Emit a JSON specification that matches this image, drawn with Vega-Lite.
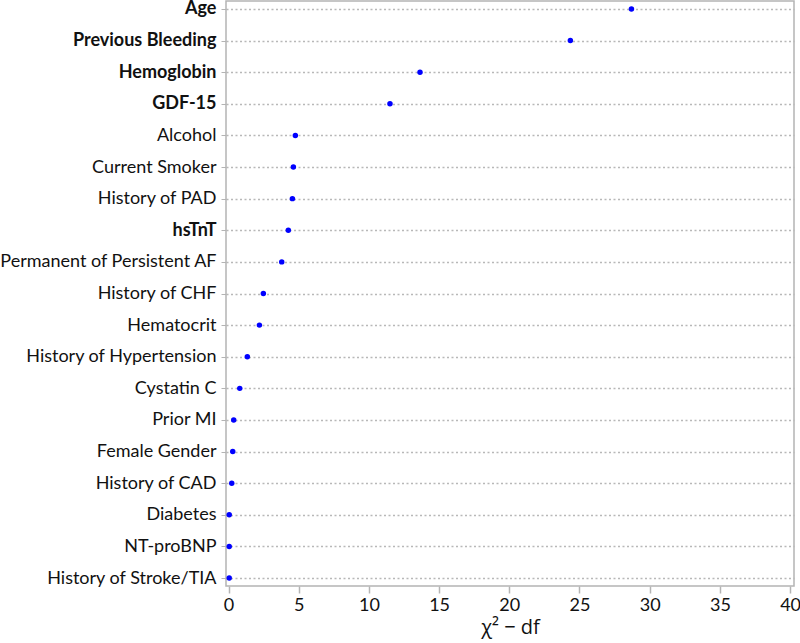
{
  "$schema": "https://vega.github.io/schema/vega-lite/v6.json",
  "autosize": {"type": "none"},
  "width": 568,
  "height": 585,
  "padding": {"left": 226, "top": 1, "right": 6, "bottom": 57},
  "background": "white",
  "config": {
    "view": {"stroke": "#b4b4b4", "strokeWidth": 1.5},
    "font": "Lato"
  },
  "data": {
    "values": [
      {"var": "Age", "val": 28.7},
      {"var": "Previous Bleeding", "val": 24.35},
      {"var": "Hemoglobin", "val": 13.64},
      {"var": "GDF-15", "val": 11.5},
      {"var": "Alcohol", "val": 4.76},
      {"var": "Current Smoker", "val": 4.62},
      {"var": "History of PAD", "val": 4.55},
      {"var": "hsTnT", "val": 4.26},
      {"var": "Permanent of Persistent AF", "val": 3.79},
      {"var": "History of CHF", "val": 2.48},
      {"var": "Hematocrit", "val": 2.2},
      {"var": "History of Hypertension", "val": 1.34},
      {"var": "Cystatin C", "val": 0.8},
      {"var": "Prior MI", "val": 0.37},
      {"var": "Female Gender", "val": 0.3},
      {"var": "History of CAD", "val": 0.23},
      {"var": "Diabetes", "val": 0.05},
      {"var": "NT-proBNP", "val": 0.05},
      {"var": "History of Stroke/TIA", "val": 0.05}
    ]
  },
  "mark": {"type": "point", "filled": true, "color": "#0000ff", "size": 30, "opacity": 1},
  "encoding": {
    "y": {
      "field": "var",
      "type": "nominal",
      "sort": null,
      "scale": {"type": "point", "padding": 0.25},
      "axis": {
        "title": null,
        "domain": false,
        "grid": true,
        "gridDash": [2, 2.5],
        "gridColor": "#b8b8b8",
        "gridWidth": 1.3,
        "tickColor": "#b4b4b4",
        "tickSize": 5,
        "labelPadding": 5,
        "labelFontSize": 18,
        "labelColor": "#111111",
        "labelLimit": 300,
        "labelFontWeight": {
          "condition": {"test": "indexof(['Age','Previous Bleeding','Hemoglobin','GDF-15','hsTnT'], datum.value) >= 0", "value": "bold"},
          "value": "normal"
        }
      }
    },
    "x": {
      "field": "val",
      "type": "quantitative",
      "scale": {"domain": [-0.18, 40.28], "nice": false, "zero": false},
      "axis": {
        "title": "χ² − df",
        "titleFont": "Open Sans",
        "titleFontSize": 20,
        "titleFontWeight": "normal",
        "titleColor": "#111111",
        "titlePadding": 3,
        "values": [0, 5, 10, 15, 20, 25, 30, 35, 40],
        "grid": false,
        "domain": false,
        "tickColor": "#b4b4b4",
        "tickSize": 7,
        "tickWidth": 1.5,
        "labelFontSize": 18,
        "labelColor": "#111111",
        "labelPadding": 3,
        "labelFlush": false
      }
    }
  }
}
